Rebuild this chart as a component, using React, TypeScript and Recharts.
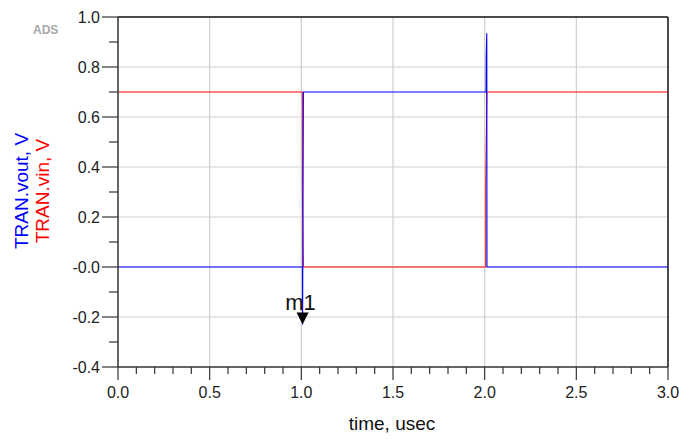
import React from 'react';
import { LineChart, Line, XAxis, YAxis, ReferenceLine, ReferenceDot } from 'recharts';

// TRAN.vin (red) samples, time in usec
const vinTime = [0, 1.0055, 1.0058, 1.011, 2.0057, 2.0059, 2.012, 3.0];
const vinValue = [0.7, 0.7, 0.31, 0, 0, 0.34, 0.7, 0.7];

// TRAN.vout (blue) samples
const voutTime = [0, 1.0062, 1.0068, 1.0112, 2.0075, 2.0085, 2.0115, 2.0125, 3.0];
const voutValue = [0, 0, -0.23, 0.7, 0.7, 0.84, 0.935, 0, 0];

const xMajorTicks = [0, 0.5, 1.0, 1.5, 2.0, 2.5, 3.0];
const xTickLabels = ['0.0', '0.5', '1.0', '1.5', '2.0', '2.5', '3.0'];
const xAllTicks = [0, 0.1, 0.2, 0.3, 0.4, 0.5, 0.6, 0.7, 0.8, 0.9, 1.0, 1.1, 1.2, 1.3, 1.4, 1.5,
  1.6, 1.7, 1.8, 1.9, 2.0, 2.1, 2.2, 2.3, 2.4, 2.5, 2.6, 2.7, 2.8, 2.9, 3.0];

const yMajorTicks = [1.0, 0.8, 0.6, 0.4, 0.2, 0, -0.2, -0.4];
const yTickLabels = ['1.0', '0.8', '0.6', '0.4', '0.2', '-0.0', '-0.2', '-0.4'];
const yAllTicks = [-0.4, -0.3, -0.2, -0.1, 0, 0.1, 0.2, 0.3, 0.4, 0.5, 0.6, 0.7, 0.8, 0.9, 1.0];

const markerTime = 1.0068;
const markerValue = -0.23;

const vinData = vinTime.map((t, i) => ({ t, v: vinValue[i] }));
const voutData = voutTime.map((t, i) => ({ t, v: voutValue[i] }));

const FONT = '"Liberation Sans", Arial, sans-serif';
const AXIS = '#333';
const GRID = '#cfcfcf';
const PLOT_LEFT = 118;
const PLOT_BOTTOM = 367;

const majorIndex = (list: number[], v: number) => list.findIndex((m) => Math.abs(m - v) < 1e-6);

const YTick = (props: any) => {
  const { y, payload } = props;
  const idx = majorIndex(yMajorTicks, payload.value);
  const major = idx >= 0;
  return (
    <g>
      <line x1={major ? 102 : 109} x2={PLOT_LEFT} y1={y} y2={y} stroke={AXIS} strokeWidth={1.2} />
      {major && (
        <text x={100} y={y + 6} textAnchor="end" fontSize={16} fontFamily={FONT} fill="#222">
          {yTickLabels[idx]}
        </text>
      )}
    </g>
  );
};

const XTick = (props: any) => {
  const { x, payload } = props;
  const idx = majorIndex(xMajorTicks, payload.value);
  const major = idx >= 0;
  return (
    <g>
      <line x1={x} x2={x} y1={PLOT_BOTTOM} y2={major ? 380 : 374} stroke={AXIS} strokeWidth={1.2} />
      {major && (
        <text x={x} y={398} textAnchor="middle" fontSize={16} fontFamily={FONT} fill="#222">
          {xTickLabels[idx]}
        </text>
      )}
    </g>
  );
};

const Marker = (props: any) => {
  const { cx, cy } = props;
  return (
    <g>
      <polygon points={`${cx - 6},${cy - 12} ${cx + 6},${cy - 12} ${cx},${cy}`} fill="#000" />
      <text x={cx - 2} y={cy - 15} textAnchor="middle" fontSize={22} fontFamily={FONT} fill="#111">
        m1
      </text>
    </g>
  );
};

export default function App() {
  return (
    <div style={{ position: 'absolute', left: 0, top: 0, width: 679, height: 439, background: '#fff' }}>
      <LineChart width={679} height={439} margin={{ top: 17, right: 11, bottom: 42, left: 0 }}>
        <XAxis
          type="number"
          dataKey="t"
          domain={[0, 3]}
          ticks={xAllTicks}
          interval={0}
          tick={<XTick />}
          tickLine={false}
          tickSize={0}
          height={30}
          axisLine={{ stroke: AXIS, strokeWidth: 1.5 }}
          allowDataOverflow
        />
        <YAxis
          type="number"
          domain={[-0.4, 1.0]}
          ticks={yAllTicks}
          interval={0}
          tick={<YTick />}
          tickLine={false}
          tickSize={0}
          width={118}
          axisLine={{ stroke: AXIS, strokeWidth: 1.5 }}
          allowDataOverflow
        />
        {xMajorTicks.slice(1, -1).map((t) => (
          <ReferenceLine key={`gx${t}`} x={t} stroke={GRID} strokeWidth={1.2} />
        ))}
        {yMajorTicks.slice(1, -1).map((v) => (
          <ReferenceLine key={`gy${v}`} y={v} stroke={GRID} strokeWidth={1.2} />
        ))}
        <ReferenceLine y={1.0} stroke="#111" strokeWidth={1.5} />
        <ReferenceLine x={3.0} stroke="#111" strokeWidth={1.5} />
        <Line
          data={vinData}
          dataKey="v"
          type="linear"
          stroke="#ff0000"
          strokeWidth={1}
          dot={false}
          isAnimationActive={false}
        />
        <Line
          data={voutData}
          dataKey="v"
          type="linear"
          stroke="#0000ff"
          strokeWidth={1.1}
          dot={false}
          isAnimationActive={false}
        />
        <ReferenceDot x={markerTime} y={markerValue} shape={<Marker />} ifOverflow="extendDomain" />
      </LineChart>
      <svg width={679} height={439} style={{ position: 'absolute', left: 0, top: 0, pointerEvents: 'none' }}>
        <text x={33} y={34} fontSize={12} fontWeight="bold" fontFamily={FONT} fill="#a8a8a8">
          ADS
        </text>
        <text x={28} y={191} transform="rotate(-90 28 191)" textAnchor="middle" fontSize={19} fontFamily={FONT} fill="#0000ff">
          TRAN.vout, V
        </text>
        <text x={49} y={191} transform="rotate(-90 49 191)" textAnchor="middle" fontSize={19} fontFamily={FONT} fill="#ff0000">
          TRAN.vin, V
        </text>
        <text x={392} y={430} textAnchor="middle" fontSize={19} fontFamily={FONT} fill="#111">
          time, usec
        </text>
      </svg>
    </div>
  );
}
